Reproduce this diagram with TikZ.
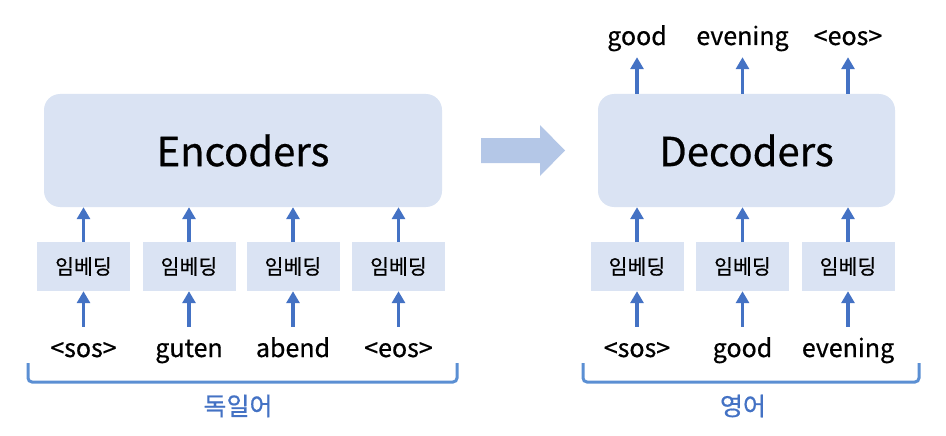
\documentclass[tikz,border=0pt]{standalone}
\usepackage{fontspec}
\setmainfont{Noto Sans CJK KR}[FakeBold=0.6]
\usetikzlibrary{arrows.meta,positioning}
\definecolor{boxfill}{HTML}{DAE3F3}
\definecolor{bigarrow}{HTML}{B4C7E7}
\definecolor{arrowblue}{HTML}{4472C4}
\definecolor{bracketblue}{HTML}{5B8FD3}

\begin{document}
\begin{tikzpicture}[x=1pt, y=-1pt, node distance = 105.5pt, on grid,
coder/.style = {fill=boxfill, rounded corners=16pt, minimum height=113pt, font=\fontsize{40}{44}\selectfont},
embed/.style = {fill=boxfill, minimum width=93pt, minimum height=49pt, font=\fontsize{20.5}{22}\selectfont},
word/.style = {font=\fontsize{25}{28}\selectfont, inner sep=0pt, text height=17pt, text depth=6pt},
lang/.style = {text=arrowblue, font=\fontsize{25}{28}\selectfont},
up/.style = {draw=arrowblue, line width=3.8pt, -{Triangle[length=12pt, width=13pt]}},
brace/.style = {draw=bracketblue, line width=3pt, rounded corners=4pt}]
\useasboundingbox (0,0) rectangle (946,436);

% encoder side
\node [coder, minimum width=398pt] (enc) at (243,150.5) {Encoders};
\node [embed] (e_1) at (83.5,266.5) {임베딩};
\node [embed] (e_2) [right = of e_1] {임베딩};
\node [embed] (e_3) [right = 104pt of e_2] {임베딩};
\node [embed] (e_4) [right = of e_3] {임베딩};
\node [word] (w_1) [below = 85pt of e_1] {<sos>};
\node [word] (w_2) [below = 85pt of e_2] {guten};
\node [word] (w_3) [below = 85pt of e_3] {abend};
\node [word] (w_4) [below = 85pt of e_4] {<eos>};
\coordinate (bl_1) at (28,363);
\coordinate (bl_2) at (457,363);
\node [lang] (de) at (238,406) {독일어};

% big arrow
\fill [bigarrow] (481,138) -- (540,138) -- (540,125) -- (565,150.5)
-- (540,176) -- (540,163) -- (481,163) -- cycle;

% decoder side
\node [coder, minimum width=297pt] (dec) at (746.5,150.5) {Decoders};
\node [embed] (f_1) at (637,266.5) {임베딩};
\node [embed] (f_2) [right = of f_1] {임베딩};
\node [embed] (f_3) [right = of f_2] {임베딩};
\node [word] (v_1) [below = 85pt of f_1] {<sos>};
\node [word] (v_2) [below = 85pt of f_2] {good};
\node [word] (v_3) [below = 85pt of f_3] {evening};
\node [word] (o_1) at (637,39.5) {good};
\node [word] (o_2) [right = of o_1] {evening};
\node [word] (o_3) [right = of o_2] {<eos>};
\coordinate (br_1) at (583,363);
\coordinate (br_2) at (919,363);
\node [lang] (en) at (743,406) {영어};

\foreach \i in {1,...,4}
{\draw [up] (w_\i.north) ++(0,-13) -- (e_\i.south);
\draw [up] (e_\i) ++(0,-24.5) -- (e_\i |- enc.south);}
\foreach \i in {1,2,3}
{\draw [up] (v_\i.north) ++(0,-13) -- (f_\i.south);
\draw [up] (f_\i) ++(0,-24.5) -- (f_\i |- dec.south);
\draw [up] (f_\i |- dec.north) -- ([yshift=-6pt]o_\i.south);}

\draw [brace] (bl_1) -- ++(0,19) -| (bl_2);
\draw [brace] (br_1) -- ++(0,19) -| (br_2);
\end{tikzpicture}
\end{document}
